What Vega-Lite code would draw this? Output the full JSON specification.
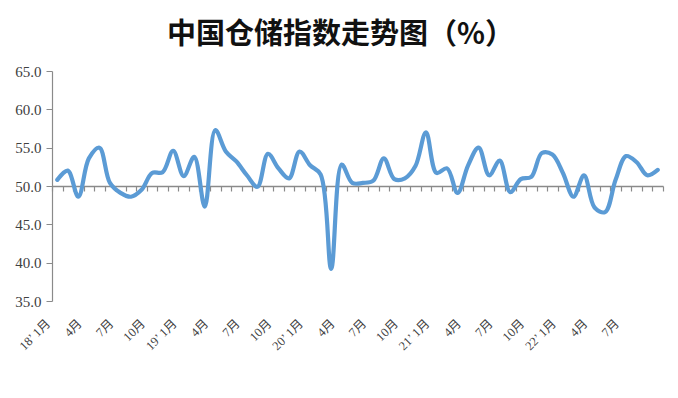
{
  "$schema": "https://vega.github.io/schema/vega-lite/v6.json",
  "autosize": {"type": "none"},
  "width": 611,
  "height": 230,
  "padding": {"left": 52, "top": 71, "right": 15, "bottom": 97},
  "background": "white",
  "title": {
    "text": "中国仓储指数走势图（%）",
    "font": "Noto Sans CJK SC",
    "fontSize": 29,
    "fontWeight": "bold",
    "color": "#111111",
    "anchor": "middle",
    "dx": -17,
    "offset": 14
  },
  "config": {
    "view": {"stroke": null},
    "axisY": {
      "title": null,
      "values": [35, 40, 45, 50, 55, 60, 65],
      "format": ".1f",
      "grid": false,
      "domain": true,
      "domainColor": "#8a8a8a",
      "domainWidth": 1.2,
      "ticks": true,
      "tickSize": 6,
      "tickColor": "#8a8a8a",
      "labelPadding": 5,
      "labelOverlap": false,
      "labelBound": false,
      "labelFlush": false,
      "labelFont": "Liberation Serif",
      "labelFontSize": 15,
      "labelColor": "#404040"
    }
  },
  "data": {
    "values": [
      {"month": "2018-01", "value": 50.8},
      {"month": "2018-02", "value": 52.0},
      {"month": "2018-03", "value": 48.6},
      {"month": "2018-04", "value": 53.6},
      {"month": "2018-05", "value": 55.0},
      {"month": "2018-06", "value": 50.4},
      {"month": "2018-07", "value": 49.1},
      {"month": "2018-08", "value": 48.6},
      {"month": "2018-09", "value": 49.5},
      {"month": "2018-10", "value": 51.7},
      {"month": "2018-11", "value": 51.8},
      {"month": "2018-12", "value": 54.6},
      {"month": "2019-01", "value": 51.3},
      {"month": "2019-02", "value": 53.8},
      {"month": "2019-03", "value": 47.3},
      {"month": "2019-04", "value": 57.3},
      {"month": "2019-05", "value": 54.5},
      {"month": "2019-06", "value": 53.2},
      {"month": "2019-07", "value": 51.4},
      {"month": "2019-08", "value": 49.9},
      {"month": "2019-09", "value": 54.2},
      {"month": "2019-10", "value": 52.3},
      {"month": "2019-11", "value": 51.0},
      {"month": "2019-12", "value": 54.5},
      {"month": "2020-01", "value": 52.7},
      {"month": "2020-02", "value": 51.5},
      {"month": "2020-03", "value": 39.2},
      {"month": "2020-04", "value": 52.8},
      {"month": "2020-05", "value": 50.4},
      {"month": "2020-06", "value": 50.4},
      {"month": "2020-07", "value": 50.7},
      {"month": "2020-08", "value": 53.6},
      {"month": "2020-09", "value": 50.9},
      {"month": "2020-10", "value": 51.0},
      {"month": "2020-11", "value": 52.6},
      {"month": "2020-12", "value": 57.0},
      {"month": "2021-01", "value": 51.7},
      {"month": "2021-02", "value": 52.3},
      {"month": "2021-03", "value": 49.1},
      {"month": "2021-04", "value": 52.7},
      {"month": "2021-05", "value": 55.0},
      {"month": "2021-06", "value": 51.4},
      {"month": "2021-07", "value": 53.3},
      {"month": "2021-08", "value": 49.2},
      {"month": "2021-09", "value": 50.9},
      {"month": "2021-10", "value": 51.2},
      {"month": "2021-11", "value": 54.3},
      {"month": "2021-12", "value": 54.1},
      {"month": "2022-01", "value": 51.7},
      {"month": "2022-02", "value": 48.6},
      {"month": "2022-03", "value": 51.4},
      {"month": "2022-04", "value": 47.2},
      {"month": "2022-05", "value": 46.6},
      {"month": "2022-06", "value": 50.8},
      {"month": "2022-07", "value": 53.9},
      {"month": "2022-08", "value": 53.1},
      {"month": "2022-09", "value": 51.4},
      {"month": "2022-10", "value": 52.1}
    ]
  },
  "resolve": {"axis": {"x": "independent"}},
  "layer": [
    {
      "mark": {"type": "line", "strokeOpacity": 0},
      "encoding": {
        "x": {
          "field": "month",
          "type": "ordinal",
          "sort": null,
          "bandPosition": 0.5,
          "scale": {"type": "band", "paddingInner": 0, "paddingOuter": 0},
          "axis": {
            "orient": "bottom",
            "offset": -115,
            "title": null,
            "labels": false,
            "domain": true,
            "domainColor": "#8a8a8a",
            "domainWidth": 1.5,
            "ticks": true,
            "tickBand": "extent",
            "tickSize": 5,
            "tickColor": "#8a8a8a",
            "tickWidth": 1.2
          }
        },
        "y": {"field": "value", "type": "quantitative", "scale": {"domain": [35, 65], "zero": false, "nice": false}}
      }
    },
    {
      "mark": {
        "type": "line",
        "color": "#5B9BD5",
        "strokeWidth": 4.2,
        "interpolate": "catmull-rom",
        "strokeCap": "round",
        "strokeJoin": "round"
      },
      "encoding": {
        "x": {
          "field": "month",
          "type": "ordinal",
          "sort": null,
          "bandPosition": 0.5,
          "scale": {"type": "band", "paddingInner": 0, "paddingOuter": 0},
          "axis": {
            "orient": "bottom",
            "title": null,
            "domain": false,
            "ticks": false,
            "tickSize": 0,
            "labelAngle": -45,
            "labelAlign": "right",
            "labelBaseline": "middle",
            "labelPadding": 20,
            "labelOffset": -9,
            "labelOverlap": false,
            "labelBound": false,
            "labelFlush": false,
            "labelFont": "Liberation Serif, Noto Sans CJK SC",
            "labelFontSize": 12.5,
            "labelColor": "#404040",
            "labelExpr": "datum.value=='2022-10' ? '' : (slice(datum.value,5)=='01' ? slice(datum.value,2,4)+'’ 1月' : (indexof(['04','07','10'], slice(datum.value,5))>=0 ? toNumber(slice(datum.value,5))+'月' : ''))"
          }
        },
        "y": {
          "field": "value",
          "type": "quantitative",
          "scale": {"domain": [35, 65], "zero": false, "nice": false}
        }
      }
    }
  ]
}
